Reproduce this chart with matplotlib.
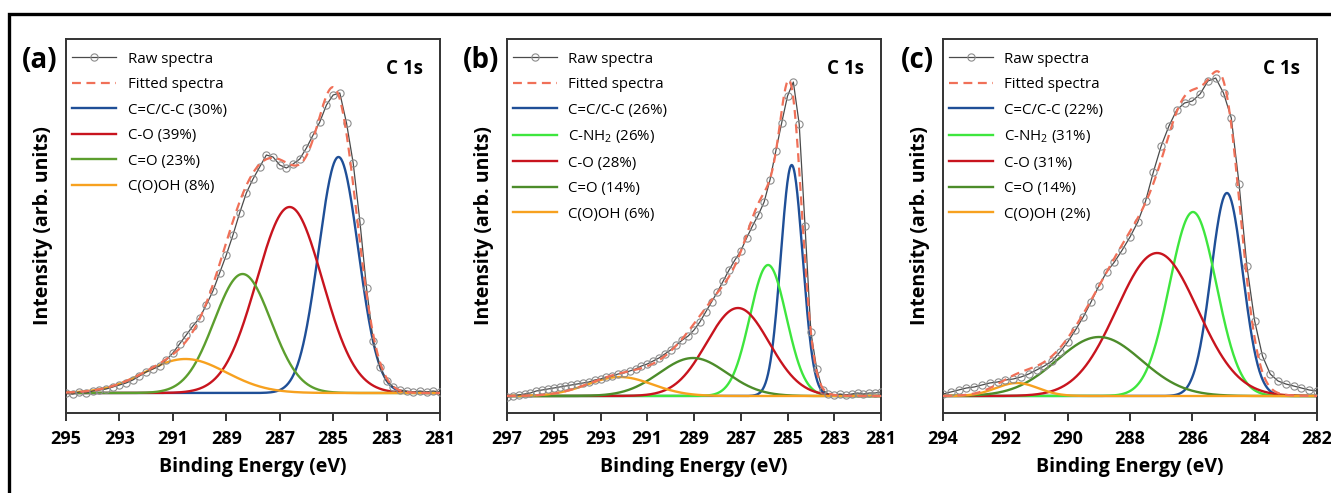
import matplotlib

matplotlib.use("Agg")
import matplotlib.pyplot as plt
import numpy as np
from matplotlib.patches import Rectangle

plt.rcParams["font.family"] = ["Open Sans", "DejaVu Sans"]
plt.rcParams["mathtext.fontset"] = "custom"
plt.rcParams["mathtext.rm"] = "Open Sans"

# ---- panel (a) ----
energy_a = np.arange(295.0, 280.99, -0.25)
raw_a = [0, -1, 1, 0, 2, 3, 4, 6, 8, 10,
         13, 17, 21, 24, 27, 33, 40, 49, 58, 67,
         75, 88, 102, 120, 138, 158, 180, 200, 214, 226,
         238, 236, 228, 225, 229, 234, 245, 258, 271, 288,
         298, 300, 270, 230, 172, 105, 52, 26, 12, 6,
         3, 2, 1, 2, 1, 2, 1]
labels_a = ["C=C/C-C (30%)", "C-O (39%)", "C=O (23%)", "C(O)OH (8%)"]
centers_a = [284.8, 286.63, 288.39, 290.53]
heights_a = [236, 186, 119, 34]
fwhm_a = [1.75, 2.9, 2.5, 3.6]

# ---- panel (b) ----
energy_b = np.arange(297.0, 280.99, -0.25)
raw_b = [-1, 0, 1, 2, 3, 5, 6, 7, 8, 9,
         10, 11, 12, 13, 14, 16, 17, 19, 20, 22,
         23, 25, 27, 30, 32, 35, 38, 42, 46, 51,
         56, 60, 66, 74, 84, 94, 104, 115, 126, 136,
         145, 158, 170, 181, 194, 216, 245, 273, 300, 314,
         272, 170, 64, 27, 6, 2, 1, 2, 1, 2,
         3, 2, 3, 3, 4]
labels_b = ["C=C/C-C (26%)", "C-NH$_2$ (26%)", "C-O (28%)", "C=O (14%)", "C(O)OH (6%)"]
centers_b = [284.82, 285.83, 287.12, 289.04, 292.17]
heights_b = [231, 131, 88, 38, 19]
fwhm_b = [1.1, 1.84, 3.15, 3.4, 3.3]

# ---- panel (c) ----
energy_c = np.arange(294.0, 281.99, -0.25)
raw_c = [2, 4, 6, 8, 9, 11, 13, 14, 16, 17,
         19, 22, 26, 30, 35, 44, 54, 66, 79, 94,
         110, 124, 134, 146, 159, 174, 195, 224, 250, 270,
         286, 293, 295, 302, 315, 318, 303, 278, 212, 130,
         75, 40, 22, 15, 12, 10, 8, 6, 5]
labels_c = ["C=C/C-C (22%)", "C-NH$_2$ (31%)", "C-O (31%)", "C=O (14%)", "C(O)OH (2%)"]
centers_c = [284.89, 285.98, 287.13, 288.99, 291.63]
heights_c = [203, 184, 143, 59, 13]
fwhm_c = [1.2, 1.77, 3.06, 3.2, 1.6]

BLUE = "#1f4f97"
RED = "#c8141e"
GREEN = "#5c9e2e"
OLIVE = "#4c8c2a"
LIME = "#3ee63e"
ORANGE = "#f7a11f"
FIT = "#f07058"

colors_a = [BLUE, RED, GREEN, ORANGE]
colors_bc = [BLUE, LIME, RED, OLIVE, ORANGE]

panels = [
    ("(a)", energy_a, raw_a, labels_a, centers_a, heights_a, fwhm_a, colors_a,
     (295, 281), np.arange(295, 280, -2), (-20, 354)),
    ("(b)", energy_b, raw_b, labels_b, centers_b, heights_b, fwhm_b, colors_bc,
     (297, 281), np.arange(297, 280, -2), (-17, 357)),
    ("(c)", energy_c, raw_c, labels_c, centers_c, heights_c, fwhm_c, colors_bc,
     (294, 282), np.arange(294, 281, -2), (-17, 357)),
]
lefts = [66, 507, 943]

W, H = 1331, 493
fig = plt.figure(figsize=(W / 100, H / 100), dpi=100)
fig.patches.append(Rectangle((8.5 / W, -0.2), 1.2, 1.2 - 13.5 / H,
                             transform=fig.transFigure, fill=False,
                             edgecolor="black", linewidth=2.4))

for (tag, energy, raw, labels, centers, heights, fwhm, colors,
     xlim, xticks, ylim), left in zip(panels, lefts):
    ax = fig.add_axes([left / W, (H - 413) / H, 374 / W, 374 / H])
    grid = np.linspace(xlim[0], xlim[1], 600)
    comps = []
    for c, h, w in zip(centers, heights, fwhm):
        sigma = w / 2.3548
        comps.append(h * np.exp(-0.5 * ((grid - c) / sigma) ** 2))
    fit = np.sum(comps, axis=0)

    ax.plot(energy, raw, color="#4a4a4a", lw=0.9, marker="o", ms=5.2,
            mfc="none", mec="#8c8c8c", mew=0.8, label="Raw spectra", zorder=3)
    ax.plot(grid, fit, color=FIT, lw=1.6, ls=(0, (4, 2.5)),
            label="Fitted spectra", zorder=4)
    for comp, lab, col in zip(comps, labels, colors):
        ax.plot(grid, comp, color=col, lw=1.7, label=lab, zorder=2)

    ax.set_xlim(*xlim)
    ax.set_ylim(*ylim)
    ax.set_xticks(xticks)
    ax.set_yticks([])
    ax.tick_params(axis="x", direction="out", length=6, width=1.4,
                   color="#333333", pad=6, labelsize=13)
    for lbl in ax.get_xticklabels():
        lbl.set_fontweight("bold")
    for sp in ax.spines.values():
        sp.set_color("#333333")
        sp.set_linewidth(1.4)

    ax.set_xlabel("Binding Energy (eV)", fontsize=14, fontweight="bold",
                  labelpad=7)
    ax.set_ylabel("Intensity (arb. units)", fontsize=14, fontweight="bold",
                  labelpad=9)
    ax.text(0.955, 0.92, "C 1s", transform=ax.transAxes, ha="right",
            va="center", fontsize=13.5, fontweight="bold")
    fig.text((left - 26) / W, 1 - 61 / H, tag, ha="center", va="center",
             fontsize=20, fontweight="bold")

    ax.legend(loc="upper left", bbox_to_anchor=(0.0, 0.982), frameon=False,
              fontsize=10.8, handlelength=2.9, handletextpad=0.8,
              labelspacing=0.70, borderaxespad=0.0, borderpad=0.4)

fig.savefig("out.png", dpi=100)
